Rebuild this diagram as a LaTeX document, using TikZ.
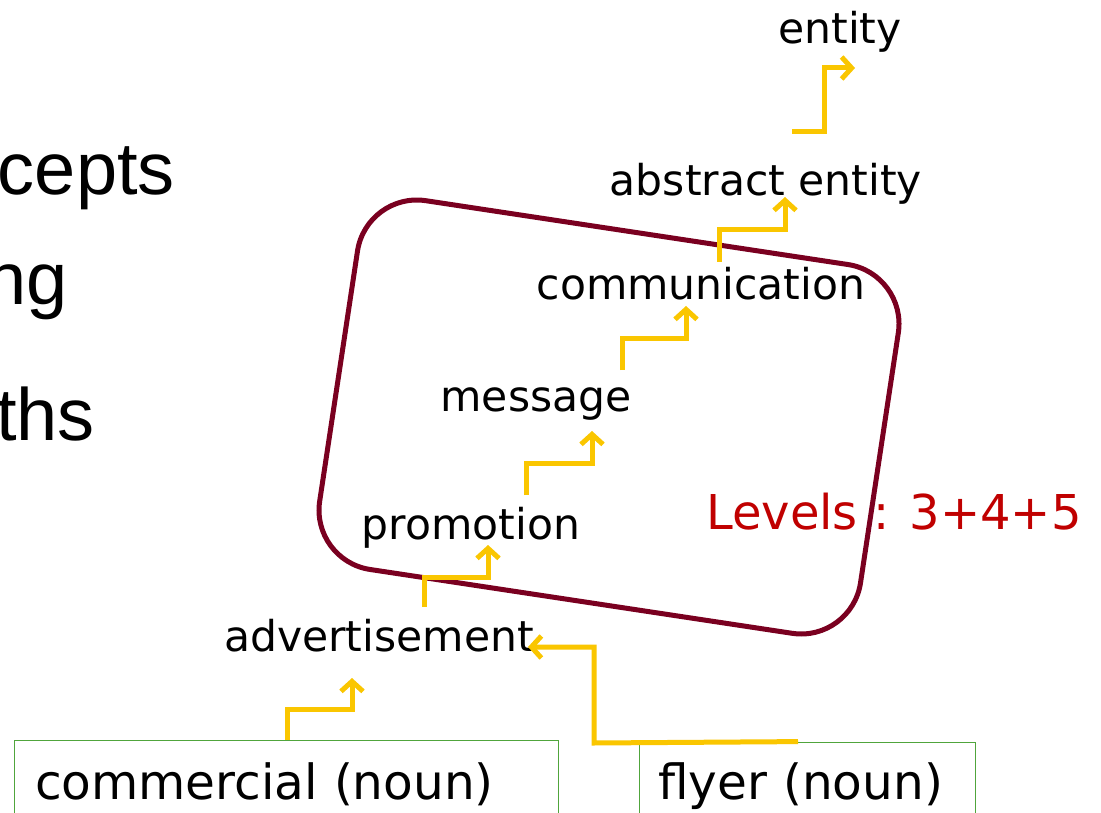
\documentclass[tikz,border=0pt]{standalone}
\usepackage{fontspec}
\setmainfont{DejaVu Sans}
\newfontfamily\arialf{Liberation Sans}
\usetikzlibrary{arrows.meta}
\definecolor{ylw}{RGB}{250,198,0}
\definecolor{darkred}{RGB}{122,0,32}
\definecolor{lvred}{RGB}{192,0,0}
\definecolor{boxgreen}{RGB}{80,165,60}
\begin{document}
\begin{tikzpicture}[x=1pt,y=-1pt,
  lbl/.style={font=\fontsize{42.5}{42.5}\selectfont, inner sep=0pt, anchor=base},
  big/.style={font=\arialf\fontsize{74}{74}\selectfont, inner sep=0pt, anchor=base east},
  wordbox/.style={draw=boxgreen, line width=0.8pt, font=\fontsize{48.5}{48.5}\selectfont, minimum height=88pt, align=left, inner ysep=0pt},
  ya/.style={draw=ylw, line width=5pt, -{Straight Barb[length=10pt,width=22pt]}}]
\clip (0,0) rectangle (1101,813);
\fill[white] (0,0) rectangle (1101,813);
% cropped title words
\node[big] (w1) at (175,195) {cepts};
\node[big] (w2) at (68,305) {ng};
\node[big] (w3) at (95,440) {ths};
% group box
\node[draw=darkred, line width=5pt, rounded corners=60pt, minimum width=547pt, minimum height=373pt, rotate=-8.6, inner sep=0pt] (group) at (609,417) {};
% labels
\node[lbl] (entity) at (840,44) {entity};
\node[lbl] (abstract) at (766,196) {abstract entity};
\node[lbl] (communication) at (701,300) {communication};
\node[lbl] (message) at (536,411) {message};
\node[lbl] (promotion) at (471,539) {promotion};
\node[lbl] (advertisement) at (379,651) {advertisement};
\node[lbl, font=\fontsize{48}{48}\selectfont, text=lvred] (levels) at (894,529) {Levels : 3+4+5};
% word boxes
\node[wordbox, minimum width=544pt, text width=502pt, inner xsep=21pt] (commercial) at (286,784) {commercial (noun)};
\node[wordbox, minimum width=336pt, text width=298pt, inner xsep=19pt] (flyer) at (807,786) {flyer (noun)};
% arrow tips
\coordinate (t1) at (352,678);
\coordinate (t2) at (528,647);
\coordinate (t3) at (488,545);
\coordinate (t4) at (592,431);
\coordinate (t5) at (686,306);
\coordinate (t6) at (785,197);
\coordinate (t7) at (855,68);
% tails
\coordinate (s3) at (424,607);
\coordinate (s4) at (526,495);
\coordinate (s5) at (622,370);
\coordinate (s6) at (719,262);
\coordinate (s7) at (792,132);
% connectors
\draw[ya] (commercial.north -| 287,0) |- (352,709) -- (t1);
\draw[ya] (flyer.north -| 798,0) -- (594,743) |- (t2);
\draw[ya] (s3) |- (488,577) -- (t3);
\draw[ya] (s4) |- (592,463) -- (t4);
\draw[ya] (s5) |- (686,338) -- (t5);
\draw[ya] (s6) |- (785,230) -- (t6);
\draw[ya] (s7) -| (824,68) -- (t7);
\end{tikzpicture}
\end{document}
